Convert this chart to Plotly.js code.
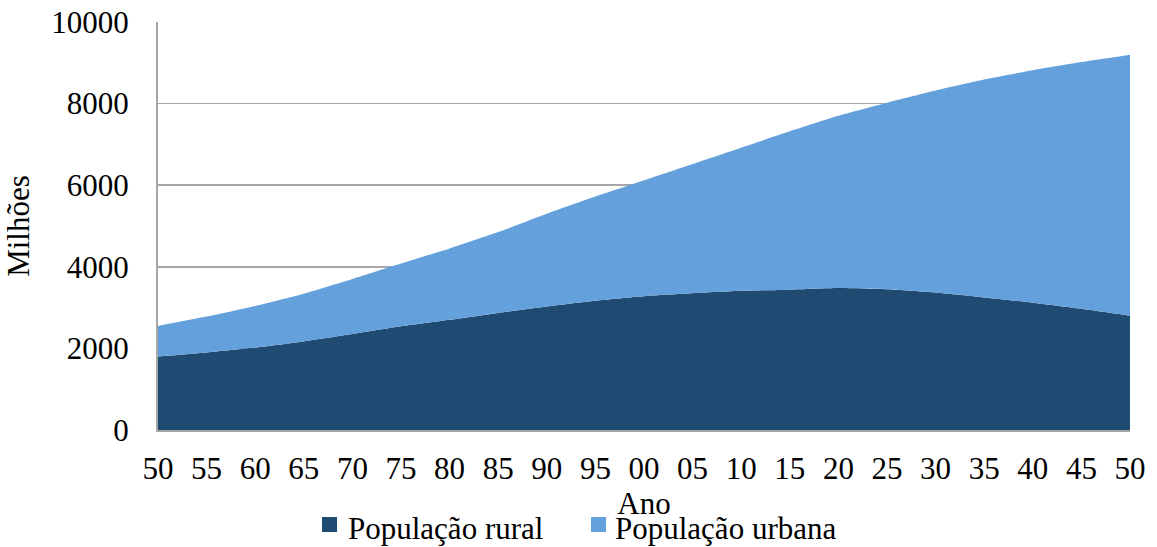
<!DOCTYPE html>
<html>
<head>
<meta charset="utf-8">
<script src="https://cdn.plot.ly/plotly-3.0.1.min.js"></script>
<style>html,body{margin:0;padding:0;background:#fff;}#chart{width:1157px;height:547px;}</style>
</head>
<body>
<div id="chart"></div>
<script>
const years = [1950,1955,1960,1965,1970,1975,1980,1985,1990,1995,2000,2005,2010,2015,2020,2025,2030,2035,2040,2045,2050];
const tickLabels = ["50","55","60","65","70","75","80","85","90","95","00","05","10","15","20","25","30","35","40","45","50"];
const rural = [1800,1900,2020,2170,2350,2540,2700,2870,3030,3170,3280,3350,3410,3440,3480,3450,3370,3250,3120,2970,2800];
const urbana = [750,880,1020,1170,1350,1540,1750,1980,2270,2550,2840,3170,3510,3880,4220,4570,4950,5340,5700,6050,6400];
const names = ["População rural", "População urbana"];
const colors = ["#1F4A71", "#64A0DC"];
const yTicks = [0,2000,4000,6000,8000,10000];

const FAM = "'Liberation Serif', 'Times New Roman', serif";
function f(size) { return {family: FAM, size: size, color: "#000"}; }
const FS = 31;

const traces = [
  {x: years, y: rural, name: names[0], type: "scatter", mode: "none", stackgroup: "one",
   fillcolor: colors[0], line: {shape: "spline", smoothing: 0.6, width: 0}},
  {x: years, y: urbana, name: names[1], type: "scatter", mode: "none", stackgroup: "one",
   fillcolor: colors[1], line: {shape: "spline", smoothing: 0.6, width: 0}}
];

// custom legend (squares + labels), positioned in paper coordinates
const legX = [[0.1687, 0.1842, 0.1934], [0.4455, 0.4609, 0.4681]];
const shapes = [], annotations = [];
for (let i = 0; i < 2; i++) {
  shapes.push({type: "rect", xref: "paper", yref: "paper", x0: legX[i][0], x1: legX[i][1],
               y0: -0.2132, y1: -0.250, fillcolor: colors[i], line: {width: 0}});
  annotations.push({xref: "paper", yref: "paper", x: legX[i][2], y: -0.2426, xanchor: "left", yanchor: "middle",
                    text: names[i], showarrow: false, font: f(FS)});
}

const layout = {
  width: 1157, height: 547,
  margin: {l: 158, r: 27, t: 22, b: 117},
  paper_bgcolor: "#fff", plot_bgcolor: "#fff",
  font: f(FS),
  showlegend: false,
  shapes: shapes, annotations: annotations,
  xaxis: {
    range: [1950, 2050], tickmode: "array", tickvals: years, ticktext: tickLabels,
    showgrid: false, zeroline: false, showline: true, linecolor: "#a6a6a6", linewidth: 2,
    ticks: "", tickfont: f(FS), automargin: false, ticklabelstandoff: 10,
    title: {text: "Ano", font: f(FS), standoff: 0}
  },
  yaxis: {
    range: [0, 10000], tickmode: "array", tickvals: yTicks, ticktext: yTicks.map(String),
    showgrid: true, gridcolor: "#a6a6a6", gridwidth: 1.5, zeroline: false,
    showline: true, linecolor: "#a6a6a6", linewidth: 2, ticks: "",
    tickfont: f(FS), automargin: false, ticklabelstandoff: 21,
    title: {text: "Milhões", font: f(FS), standoff: 12}
  }
};
Plotly.newPlot("chart", traces, layout, {staticPlot: true, displayModeBar: false});
</script>
</body>
</html>
